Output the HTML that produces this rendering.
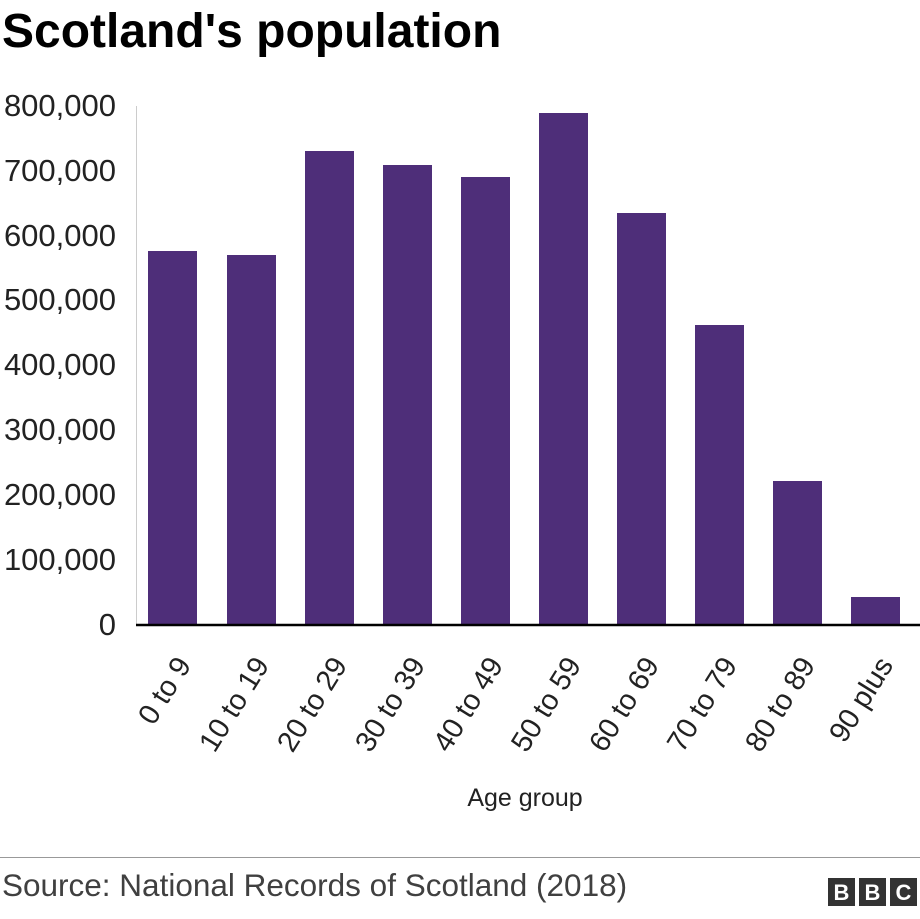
<!DOCTYPE html>
<html><head><meta charset="utf-8"><style>
html,body{margin:0;padding:0;background:#fff;}
body{width:920px;height:914px;overflow:hidden;font-family:"Liberation Sans",Arial,sans-serif;}
</style></head><body>
<svg width="920" height="914" xmlns="http://www.w3.org/2000/svg" font-family="Liberation Sans, Arial, sans-serif">
<text x="2" y="47" font-size="48" font-weight="bold" fill="#000">Scotland's population</text>
<line x1="136.5" y1="106" x2="136.5" y2="625" stroke="#ccc" stroke-width="1"/>
<g font-size="31" fill="#222" text-anchor="end">
<text x="116" y="116">800,000</text>
<text x="116" y="181">700,000</text>
<text x="116" y="246">600,000</text>
<text x="116" y="310">500,000</text>
<text x="116" y="375">400,000</text>
<text x="116" y="440">300,000</text>
<text x="116" y="505">200,000</text>
<text x="116" y="570">100,000</text>
<text x="116" y="635">0</text>
</g>
<g fill="#4e2e79">
<rect x="148" y="251" width="49" height="374"/>
<rect x="227" y="255" width="49" height="370"/>
<rect x="305" y="151" width="49" height="474"/>
<rect x="383" y="165" width="49" height="460"/>
<rect x="461" y="177" width="49" height="448"/>
<rect x="539" y="113" width="49" height="512"/>
<rect x="617" y="213" width="49" height="412"/>
<rect x="695" y="325" width="49" height="300"/>
<rect x="773" y="481" width="49" height="144"/>
<rect x="851" y="597" width="49" height="28"/>
</g>
<line x1="136" y1="625" x2="920" y2="625" stroke="#000" stroke-width="2.5"/>
<g font-size="29" fill="#222" text-anchor="end">
<text transform="translate(192,665) rotate(-58)">0 to 9</text>
<text transform="translate(270,665) rotate(-58)">10 to 19</text>
<text transform="translate(348,665) rotate(-58)">20 to 29</text>
<text transform="translate(426,665) rotate(-58)">30 to 39</text>
<text transform="translate(504,665) rotate(-58)">40 to 49</text>
<text transform="translate(582,665) rotate(-58)">50 to 59</text>
<text transform="translate(660,665) rotate(-58)">60 to 69</text>
<text transform="translate(738,665) rotate(-58)">70 to 79</text>
<text transform="translate(816,665) rotate(-58)">80 to 89</text>
<text transform="translate(894,665) rotate(-58)">90 plus</text>
</g>
<text x="525" y="806" font-size="25" fill="#222" text-anchor="middle">Age group</text>
<line x1="0" y1="857.5" x2="920" y2="857.5" stroke="#999" stroke-width="1"/>
<text x="2" y="896" font-size="31.5" fill="#404040">Source: National Records of Scotland (2018)</text>
<g>
<rect x="828" y="878" width="27" height="28" fill="#333"/>
<rect x="859" y="878" width="27" height="28" fill="#333"/>
<rect x="890" y="878" width="27" height="28" fill="#333"/>
<g fill="#fff" font-size="22" font-weight="bold" text-anchor="middle">
<text x="841.5" y="900">B</text><text x="872.5" y="900">B</text><text x="903.5" y="900">C</text>
</g>
</g>
</svg>
</body></html>
